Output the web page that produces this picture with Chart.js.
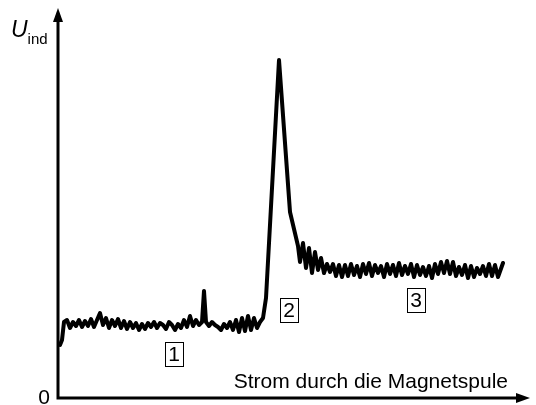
<!DOCTYPE html>
<html>
<head>
<meta charset="utf-8">
<script src="https://cdn.jsdelivr.net/npm/chart.js@4/dist/chart.umd.min.js"></script>
<style>
  body { margin: 0; background: #fff; }
  #wrap { width: 536px; height: 405px; }
</style>
</head>
<body>
<div id="wrap"><canvas id="chart"></canvas></div>
<script>
// measured curve (arbitrary units: x = current through coil, y = induced voltage)
const xValues = [2, 4, 6, 9, 12, 15, 18, 21, 24, 27, 30, 33, 36, 39, 42, 45, 48, 51, 54, 57,
  60, 63, 66, 69, 72, 75, 78, 81, 84, 87, 90, 93, 96, 99, 102, 105, 108, 111, 114, 117,
  120, 123, 126, 129, 132, 135, 138, 141, 144, 146, 148, 151, 154, 157, 160, 163, 166, 169, 172, 175,
  178, 181, 184, 187, 190, 193, 196, 199, 202, 205, 208, 221, 232, 236, 240, 242,
  245, 248, 251, 254, 257, 260, 263, 266, 269, 272, 275, 278, 281, 284, 287, 290, 293, 296, 299, 302,
  305, 308, 311, 314, 317, 320, 323, 326, 329, 332, 335, 338, 341, 344, 347, 350, 353, 356, 359, 362,
  365, 368, 371, 374, 377, 380, 383, 386, 389, 392, 395, 398, 401, 404, 407, 410, 413, 416, 419, 422,
  425, 428, 431, 434, 437, 440, 445];
const yValues = [53, 58, 76, 78, 70, 76, 72, 78, 71, 77, 72, 79, 71, 78, 85, 73, 80, 70, 78, 72,
  79, 70, 77, 69, 76, 70, 75, 68, 74, 69, 75, 71, 76, 70, 75, 73, 69, 76, 73, 68,
  74, 70, 78, 71, 82, 72, 78, 73, 76, 107, 76, 72, 76, 73, 71, 68, 74, 70, 76, 68,
  78, 66, 80, 67, 82, 68, 80, 70, 76, 80, 100, 338, 186, 169, 152, 136,
  155, 130, 150, 125, 146, 128, 140, 125, 134, 126, 134, 122, 133, 121, 133, 122, 134, 123, 132, 121,
  134, 124, 135, 122, 133, 125, 132, 121, 134, 124, 133, 122, 135, 123, 132, 124, 134, 121, 133, 123,
  131, 122, 132, 120, 134, 124, 136, 125, 137, 124, 136, 122, 131, 123, 133, 120, 132, 121, 130, 124,
  132, 122, 134, 122, 133, 121, 135];

// boxed region markers
const markerLabels = ['1', '2', '3'];
const markerX = [116, 231, 358];
const markerY = [44, 88, 98];

const xTitle = 'Strom durch die Magnetspule';
const yTitle = 'U';
const yTitleSub = 'ind';
const originLabel = '0';

const points = xValues.map((x, i) => ({ x: x, y: yValues[i] }));

const drawings = {
  id: 'drawings',
  afterDraw(chart) {
    const ctx = chart.ctx;
    const a = chart.chartArea;
    const xs = chart.scales.x, ys = chart.scales.y;
    const x0 = a.left, y0 = a.bottom;
    ctx.save();
    ctx.strokeStyle = '#000';
    ctx.fillStyle = '#000';
    ctx.lineWidth = 3;
    // axes
    ctx.beginPath();
    ctx.moveTo(x0, y0 + 1.5);
    ctx.lineTo(x0, a.top + 8);
    ctx.moveTo(x0 - 1.5, y0);
    ctx.lineTo(a.right - 6, y0);
    ctx.stroke();
    // arrow heads
    ctx.beginPath();
    ctx.moveTo(x0, a.top);
    ctx.lineTo(x0 - 5, a.top + 14);
    ctx.lineTo(x0 + 5, a.top + 14);
    ctx.closePath();
    ctx.fill();
    ctx.beginPath();
    ctx.moveTo(a.right + 2, y0);
    ctx.lineTo(a.right - 12, y0 - 5);
    ctx.lineTo(a.right - 12, y0 + 5);
    ctx.closePath();
    ctx.fill();

    // texts
    ctx.textBaseline = 'alphabetic';
    ctx.font = '21px "Liberation Sans", Arial, sans-serif';
    ctx.textAlign = 'right';
    ctx.fillText(xTitle, 508, 388);
    ctx.font = '21px "Liberation Sans", Arial, sans-serif';
    ctx.fillText(originLabel, x0 - 8, 404);
    ctx.textAlign = 'left';
    ctx.font = 'italic 23px "Liberation Sans", Arial, sans-serif';
    ctx.fillText(yTitle, 11, 37);
    const uw = ctx.measureText(yTitle).width;
    ctx.font = '15px "Liberation Sans", Arial, sans-serif';
    ctx.fillText(yTitleSub, 11 + uw, 44);

    // boxed markers
    ctx.lineWidth = 1;
    ctx.font = '21px "Liberation Sans", Arial, sans-serif';
    ctx.textAlign = 'center';
    ctx.textBaseline = 'middle';
    markerLabels.forEach((lab, i) => {
      const cx = xs.getPixelForValue(markerX[i]);
      const cy = ys.getPixelForValue(markerY[i]);
      ctx.strokeRect(Math.round(cx - 9) + 0.5, Math.round(cy - 12) + 0.5, 18, 24);
      ctx.fillText(lab, cx, cy + 1);
    });
    ctx.restore();
  }
};

new Chart(document.getElementById('chart'), {
  type: 'line',
  data: {
    datasets: [{
      data: points,
      borderColor: '#000',
      borderWidth: 4,
      borderJoinStyle: 'round',
      borderCapStyle: 'round',
      pointRadius: 0,
      tension: 0,
      fill: false
    }]
  },
  options: {
    responsive: true,
    maintainAspectRatio: false,
    animation: false,
    layout: { padding: { left: 58, right: 8, top: 8, bottom: 7 } },
    plugins: { legend: { display: false }, tooltip: { enabled: false } },
    scales: {
      x: { type: 'linear', min: 0, max: 470, display: false },
      y: { min: 0, max: 390, display: false }
    }
  },
  plugins: [drawings]
});
</script>
</body>
</html>
